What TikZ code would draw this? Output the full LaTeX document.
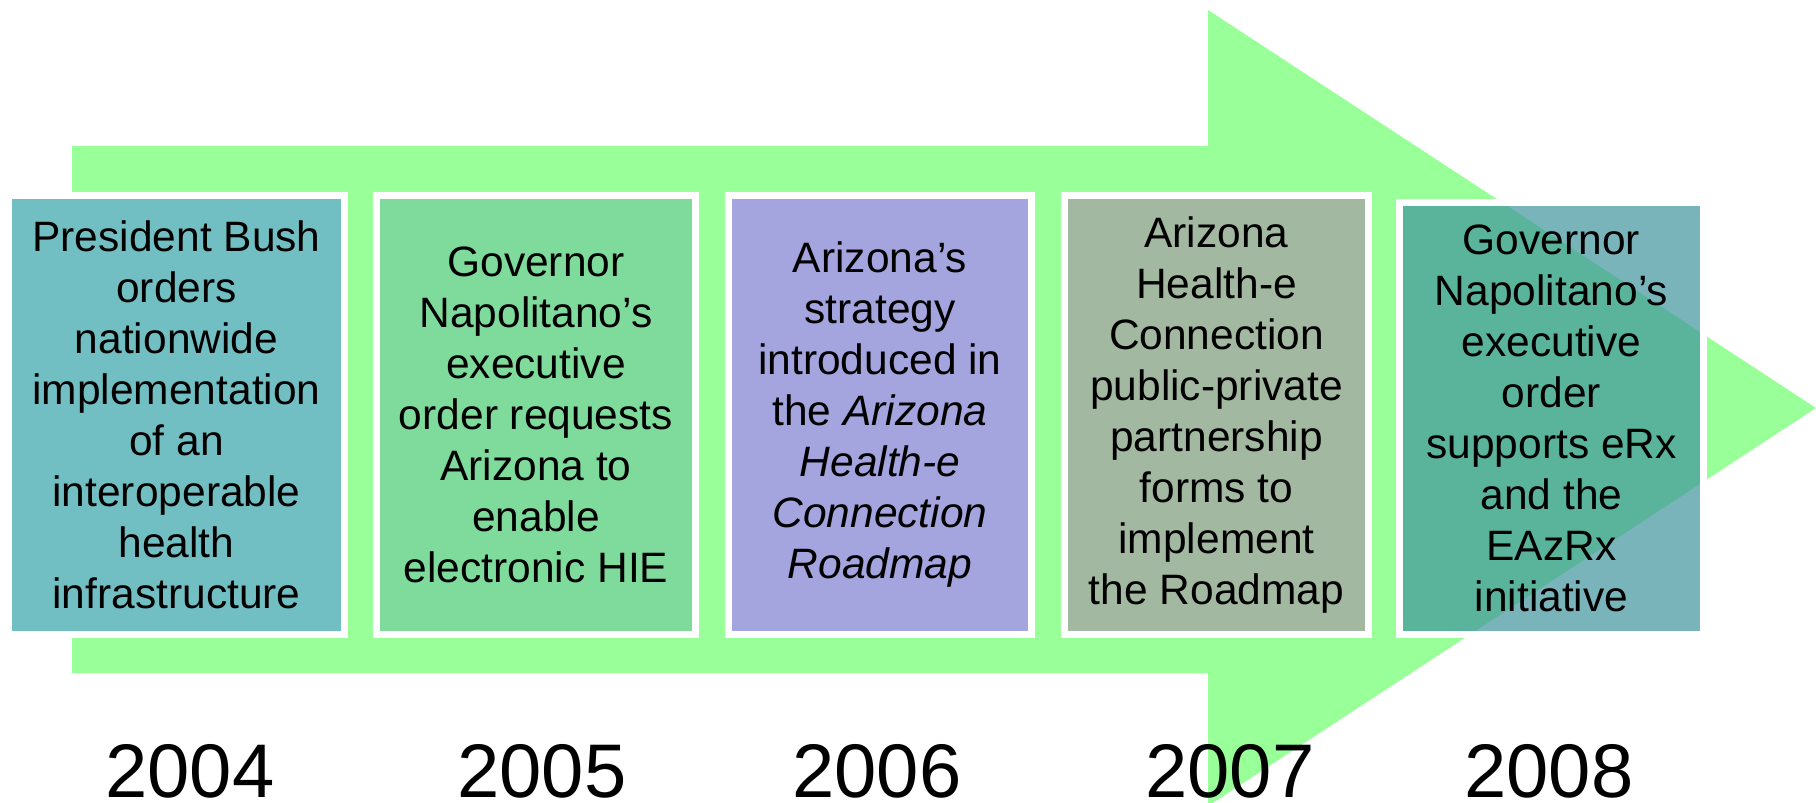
\documentclass[tikz,border=0pt]{standalone}
\usepackage{fontspec}
\setmainfont{Liberation Sans}
\definecolor{arrowgreen}{HTML}{99FF99}
\definecolor{c2004}{HTML}{72BFC3}
\definecolor{c2005}{HTML}{7FDB9B}
\definecolor{c2006}{HTML}{A4A4DE}
\definecolor{c2007}{HTML}{A3B8A1}
\definecolor{c2008}{HTML}{3F929D}

\begin{document}
\begin{tikzpicture}[x=1pt,y=-1pt,
	box/.style={draw=white,line width=7pt,inner sep=0pt,align=center,
		font=\fontsize{42.5}{51}\selectfont,minimum height=439pt},
	year/.style={anchor=base,font=\fontsize{76}{90}\selectfont}]
	\useasboundingbox (0,0) rectangle (1816,803);
	\fill[arrowgreen](72,146)--(1208,146)--(1208,10)--(1816,408)--(1208,806)--(1208,673)--(72,673)--cycle;
	
	\node[box,fill=c2004,minimum width=336pt] at (176.5,415)(b2004){President Bush\\orders\\nationwide\\implementation\\of an\\interoperable\\health\\infrastructure};
	\node[box,fill=c2005,minimum width=319pt] at (536,415)(b2005){Governor\\Napolitano’s\\executive\\order requests\\Arizona to\\enable\\electronic HIE};
	\node[box,fill=c2006,minimum width=303pt] at (880,415)(b2006){Arizona’s\\strategy\\introduced in\\the \textit{Arizona}\\\textit{Health-e}\\\textit{Connection}\\\textit{Roadmap}};
	\node[box,fill=c2007,minimum width=304pt] at (1216.5,415)(b2007){Arizona\\Health-e\\Connection\\public-private\\partnership\\forms to\\implement\\the Roadmap};
	\node[box,fill=c2008,fill opacity=0.69,text opacity=1,minimum width=304pt,minimum height=432pt] at (1551.5,418.5)(b2008){Governor\\Napolitano’s\\executive\\order\\supports eRx\\and the\\EAzRx\\initiative};
	
	\node[year] at (190,797)(y2004){2004};
	\node[year] at (542,797)(y2005){2005};
	\node[year] at (877,797)(y2006){2006};
	\node[year] at (1230,797)(y2007){2007};
	\node[year] at (1549,797)(y2008){2008};
\end{tikzpicture}
\end{document}
